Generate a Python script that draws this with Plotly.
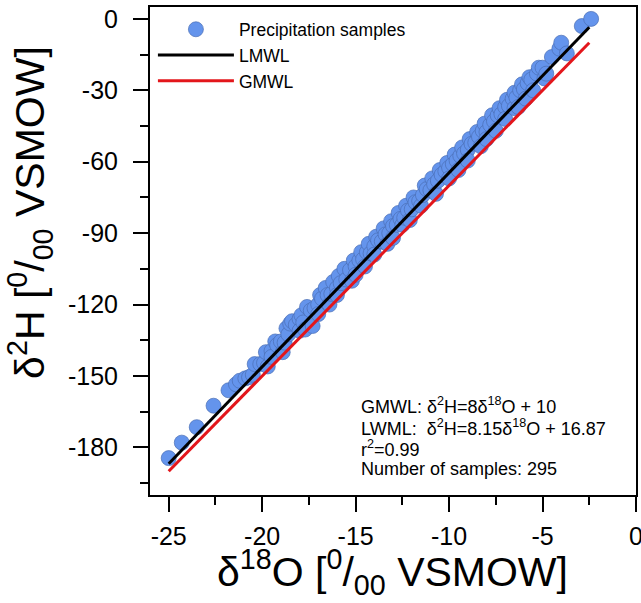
import plotly.graph_objects as go

# Precipitation samples (δ18O, δ2H)
d18o = [-25.0, -24.3, -23.5, -22.6, -21.8, -21.4, -21.2, -20.9, -20.7, -20.5, -20.4, -20.1,
        -19.9, -19.8, -19.7, -19.5, -19.5, -19.3, -19.2, -19.0, -18.9, -18.8, -18.7, -18.6,
        -18.5, -18.4, -18.2, -18.0, -18.0, -17.9, -17.8, -17.7, -17.6, -17.4, -17.3, -17.2,
        -17.0, -17.0, -16.9, -16.8, -16.6, -16.5, -16.4, -16.3, -16.2, -16.0, -16.0, -15.9,
        -15.8, -15.6, -15.5, -15.3, -15.2, -15.1, -15.0, -15.0, -14.8, -14.7, -14.6, -14.5,
        -14.4, -14.3, -14.2, -14.0, -14.0, -13.9, -13.8, -13.6, -13.5, -13.4, -13.3, -13.2,
        -13.1, -13.0, -13.0, -12.8, -12.7, -12.6, -12.5, -12.4, -12.3, -12.2, -12.1, -12.0,
        -11.9, -11.8, -11.6, -11.5, -11.4, -11.3, -11.2, -11.0, -10.9, -10.8, -10.7, -10.6,
        -10.5, -10.4, -10.2, -10.1, -10.0, -10.0, -9.8, -9.7, -9.6, -9.5, -9.4, -9.3,
        -9.2, -9.0, -9.0, -8.9, -8.8, -8.6, -8.5, -8.4, -8.3, -8.2, -8.1, -8.0, -8.0,
        -7.8, -7.7, -7.6, -7.5, -7.4, -7.3, -7.2, -7.0, -7.0, -6.9, -6.8, -6.6, -6.5,
        -6.5, -6.4, -6.3, -6.2, -6.1, -6.0, -5.9, -5.8, -5.7, -5.6, -5.5, -5.3, -5.2,
        -5.0, -4.9, -4.8, -4.5, -4.1, -4.0, -3.7, -2.9, -2.4]
d2h = [-184.5, -178.0, -171.5, -162.5, -156.0, -153.5, -152.0, -151.0, -150.5, -149.5, -145.0, -145.0,
       -144.5, -140.0, -146.0, -139.5, -142.0, -135.5, -137.0, -135.5, -140.0, -136.0, -130.0, -132.5,
       -128.0, -127.0, -128.5, -126.0, -131.0, -124.5, -127.5, -130.5, -121.0, -122.5, -129.0, -121.5,
       -120.0, -124.0, -116.0, -117.5, -113.0, -116.0, -120.0, -115.5, -110.5, -113.0, -116.0, -108.0,
       -111.0, -105.0, -109.5, -105.5, -110.0, -101.5, -104.0, -107.5, -101.5, -98.0, -101.0, -104.0,
       -98.0, -94.5, -98.5, -95.5, -99.0, -91.5, -93.0, -93.5, -88.0, -90.5, -94.5, -90.0,
       -85.0, -87.0, -92.0, -86.5, -81.5, -84.0, -86.5, -83.5, -78.5, -80.5, -84.5, -80.0,
       -75.0, -77.0, -76.5, -78.5, -74.0, -70.0, -71.5, -72.0, -67.0, -69.5, -73.5, -68.0,
       -63.5, -65.5, -64.0, -60.5, -62.5, -67.0, -61.0, -57.0, -59.5, -63.5, -57.5, -54.0,
       -56.5, -55.0, -59.5, -50.5, -52.5, -52.0, -47.5, -49.5, -53.5, -47.0, -44.0, -47.5, -50.5,
       -44.5, -40.5, -43.0, -47.0, -40.5, -37.5, -40.0, -37.0, -42.0, -34.0, -36.5, -33.5, -37.5,
       -31.0, -33.0, -37.0, -30.0, -27.5, -29.5, -33.5, -27.0, -24.5, -25.5, -30.0, -23.0, -20.5,
       -20.5, -25.0, -23.0, -16.0, -12.5, -10.0, -14.5, -3.0, 0.0]

# Meteoric water lines (end points)
lmwl_x = [-25.0, -2.5]
lmwl_y = [-186.9, -3.5]
gmwl_x = [-25.0, -2.5]
gmwl_y = [-190.0, -10.0]

x_ticks = [-25, -20, -15, -10, -5, 0]
x_minor = [-22.5, -17.5, -12.5, -7.5, -2.5]
y_ticks = [0, -30, -60, -90, -120, -150, -180]
y_minor = [-15, -45, -75, -105, -135, -165, -195]

info_lines = ["GMWL: δ<sup>2</sup>H=8δ<sup>18</sup>O + 10",
              "LWML: \u00a0δ<sup>2</sup>H=8.15δ<sup>18</sup>O + 16.87",
              "r<sup>2</sup>=0.99",
              "Number of samples: 295"]

FONT = "Arial, Liberation Sans, sans-serif"

fig = go.Figure()
fig.add_trace(go.Scatter(
    x=d18o, y=d2h, mode="markers", name="Precipitation samples",
    marker=dict(size=15, color="#6494ec", line=dict(color="#4a6fb5", width=0.7))))
fig.add_trace(go.Scatter(x=lmwl_x, y=lmwl_y, mode="lines", name="LMWL",
                         line=dict(color="black", width=3)))
fig.add_trace(go.Scatter(x=gmwl_x, y=gmwl_y, mode="lines", name="GMWL",
                         line=dict(color="#e3161b", width=3)))

axis_common = dict(showline=True, linecolor="black", linewidth=2, mirror=True,
                   ticks="outside", ticklen=15, tickwidth=2, tickcolor="black",
                   showgrid=False, zeroline=False, automargin=False,
                   ticklabeloverflow="allow",
                   tickfont=dict(family=FONT, size=25, color="black"))

fig.update_xaxes(range=[-26, 0], tickvals=x_ticks, ticktext=[str(v) for v in x_ticks],
                 minor=dict(ticks="outside", ticklen=8, tickwidth=2, tickcolor="black",
                            tickvals=x_minor),
                 ticklabelstandoff=3, **axis_common)
fig.update_yaxes(range=[-200, 5], tickvals=y_ticks, ticktext=[str(v) for v in y_ticks],
                 minor=dict(ticks="outside", ticklen=8, tickwidth=2, tickcolor="black",
                            tickvals=y_minor),
                 ticklabelstandoff=10, **axis_common)

annotations = [
    dict(text="δ<sup>18</sup>O [<sup>0</sup>/<sub>00</sub> VSMOW]", xref="paper", yref="paper",
         x=0.498, y=-0.158, xanchor="center", yanchor="middle", showarrow=False,
         font=dict(family=FONT, size=41, color="black")),
    dict(text="δ<sup>2</sup>H [<sup>0</sup>/<sub>00</sub> VSMOW]", xref="paper", yref="paper",
         x=-0.247, y=0.58, xanchor="center", yanchor="middle", showarrow=False, textangle=-90,
         font=dict(family=FONT, size=41, color="black")),
]
info_y = [0.1824, 0.1393, 0.0963, 0.0533]
for txt, yy in zip(info_lines, info_y):
    annotations.append(dict(text=txt, xref="paper", yref="paper", x=0.43, y=yy,
                            xanchor="left", yanchor="middle", align="left", showarrow=False,
                            font=dict(family=FONT, size=18, color="black")))

fig.update_layout(
    width=641, height=603,
    margin=dict(l=150, r=5, t=7, b=108),
    plot_bgcolor="white", paper_bgcolor="white",
    font=dict(family=FONT, color="black"),
    showlegend=True,
    legend=dict(x=0.006, y=0.991, xanchor="left", yanchor="top",
                bgcolor="rgba(0,0,0,0)", font=dict(family=FONT, size=17.5, color="black"),
                itemwidth=76, tracegroupgap=0),
    annotations=annotations,
)

fig.write_html("out.html", config={"displayModeBar": False},
               post_script="document.body.style.margin='0px';")
